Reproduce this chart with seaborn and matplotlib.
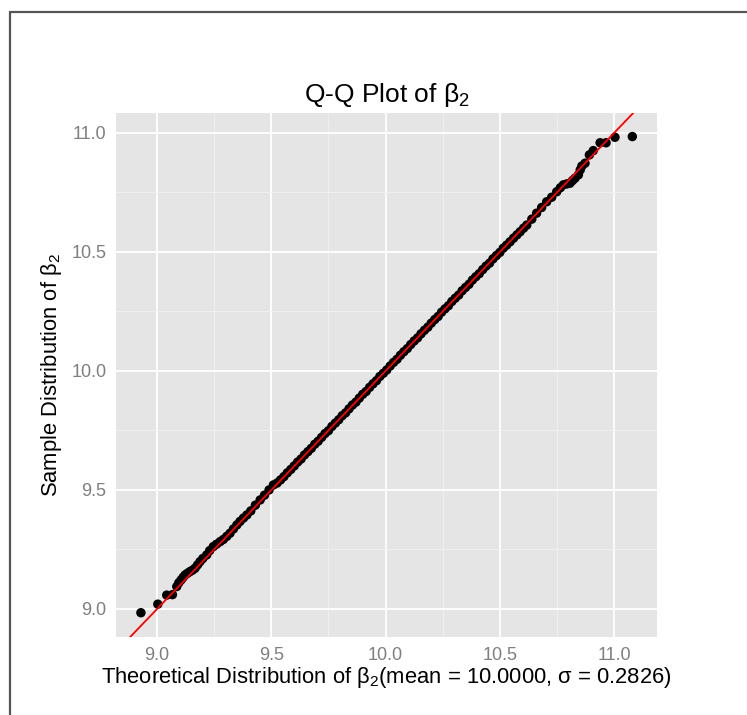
import numpy as np
import matplotlib
matplotlib.use("Agg")
import matplotlib.pyplot as plt
from matplotlib.lines import Line2D
import pandas as pd
import seaborn as sns

# quantile pairs (theoretical, sample)
lower_theory = [8.929, 9.003, 9.042, 9.067, 9.086, 9.095, 9.105, 9.114, 9.123, 9.133,
                9.144, 9.155, 9.166, 9.177, 9.188, 9.200, 9.217, 9.230, 9.246, 9.260,
                9.276, 9.290, 9.305, 9.319, 9.334, 9.349, 9.363, 9.378, 9.393, 9.410,
                9.430, 9.451, 9.470, 9.490, 9.509]
lower_sample = [8.984, 9.020, 9.058, 9.060, 9.094, 9.110, 9.122, 9.133, 9.143, 9.150,
                9.157, 9.163, 9.171, 9.185, 9.199, 9.212, 9.227, 9.245, 9.262, 9.272,
                9.283, 9.292, 9.305, 9.318, 9.336, 9.353, 9.368, 9.382, 9.395, 9.412,
                9.436, 9.458, 9.478, 9.500, 9.521]

body_theory = [9.525, 9.540, 9.555, 9.570, 9.585, 9.600, 9.615, 9.630, 9.645, 9.660,
               9.675, 9.690, 9.705, 9.720, 9.735, 9.750, 9.765, 9.780, 9.795, 9.810,
               9.825, 9.840, 9.855, 9.870, 9.885, 9.900, 9.915, 9.930, 9.945, 9.960,
               9.975, 9.990, 10.005, 10.020, 10.035, 10.050, 10.065, 10.080, 10.095, 10.110,
               10.125, 10.140, 10.155, 10.170, 10.185, 10.200, 10.215, 10.230, 10.245, 10.260,
               10.275, 10.290, 10.305, 10.320, 10.335, 10.350, 10.365, 10.380, 10.395, 10.410,
               10.425, 10.440, 10.455, 10.470, 10.485, 10.500, 10.515, 10.530, 10.545, 10.560,
               10.575]
body_sample = [9.529, 9.542, 9.556, 9.572, 9.586, 9.601, 9.617, 9.630, 9.647, 9.661,
               9.675, 9.692, 9.705, 9.721, 9.737, 9.749, 9.767, 9.781, 9.795, 9.812,
               9.824, 9.841, 9.857, 9.869, 9.886, 9.902, 9.914, 9.931, 9.946, 9.959,
               9.977, 9.990, 10.004, 10.021, 10.036, 10.049, 10.066, 10.081, 10.094, 10.111,
               10.126, 10.139, 10.156, 10.171, 10.184, 10.201, 10.216, 10.229, 10.247, 10.261,
               10.274, 10.292, 10.306, 10.319, 10.337, 10.351, 10.364, 10.382, 10.396, 10.409,
               10.426, 10.441, 10.453, 10.471, 10.485, 10.498, 10.516, 10.529, 10.543, 10.558,
               10.572]

upper_theory = [10.589, 10.604, 10.618, 10.640, 10.661, 10.683, 10.705, 10.727, 10.749, 10.765,
                10.778, 10.793, 10.807, 10.818, 10.829, 10.844, 10.852, 10.859, 10.873, 10.892,
                10.909, 10.939, 10.965, 11.004, 11.080]
upper_sample = [10.585, 10.600, 10.613, 10.638, 10.663, 10.687, 10.711, 10.730, 10.753, 10.770,
                10.782, 10.786, 10.789, 10.800, 10.810, 10.824, 10.845, 10.861, 10.873, 10.908,
                10.926, 10.959, 10.959, 10.982, 10.985]

xticks = [9.0, 9.5, 10.0, 10.5, 11.0]
yticks = [9.0, 9.5, 10.0, 10.5, 11.0]

df = pd.DataFrame({
    "theory": lower_theory + body_theory + upper_theory,
    "sample": lower_sample + body_sample + upper_sample,
})

sns.set_theme(style="white")
plt.rcParams['font.family'] = ['Liberation Sans', 'DejaVu Sans']
plt.rcParams['mathtext.fontset'] = 'custom'
plt.rcParams['mathtext.rm'] = 'Liberation Sans'
plt.rcParams['mathtext.it'] = 'Liberation Sans:italic'

fig = plt.figure(figsize=(7.47, 7.15), dpi=100)
ax = fig.add_axes([116/747, 1-637/715, (657-116)/747, (637-113)/715])
ax.set_facecolor('#E5E5E5')

sns.scatterplot(data=df, x="theory", y="sample", ax=ax, color='black', s=46,
                edgecolor='none', linewidth=0, zorder=3)
ax.axline((10.0, 10.0), slope=1.0, color='#FF0000', lw=1.3, zorder=4)

ax.set_xticks(xticks)
ax.set_yticks(yticks)
ax.set_xticks([8.75 + 0.5*i for i in range(6)], minor=True)
ax.set_yticks([8.75 + 0.5*i for i in range(6)], minor=True)
ax.set_xlim(8.82, 11.188)
ax.set_ylim(8.882, 11.084)
ax.grid(True, which='major', color='white', lw=1.3, zorder=0)
ax.grid(True, which='minor', color='#F2F2F2', lw=0.6, zorder=0)
ax.set_axisbelow(True)
for sp in ax.spines.values():
    sp.set_visible(False)
ax.tick_params(which='major', direction='out', length=4, width=1, color='#7F7F7F',
               labelcolor='#7F7F7F', labelsize=13, pad=3)
ax.tick_params(which='minor', length=0)
ax.set_xticklabels(['9.0', '9.5', '10.0', '10.5', '11.0'])
ax.set_yticklabels(['9.0', '9.5', '10.0', '10.5', '11.0'])

ax.set_title('Q-Q Plot of β$_2$', fontsize=19, color='black', pad=8)
ax.set_xlabel('Theoretical Distribution of β$_2$(mean = 10.0000, σ = 0.2826)',
              fontsize=15.8, color='black', labelpad=1)
ax.set_ylabel('Sample Distribution of β$_2$', fontsize=15.8, color='black', labelpad=5)

# outer frame (left and top edges)
fig.add_artist(Line2D([10/747, 10/747], [0, 1-12/715], color='#555555', lw=1.6,
                      transform=fig.transFigure))
fig.add_artist(Line2D([10/747, 1], [1-12/715, 1-12/715], color='#555555', lw=1.6,
                      transform=fig.transFigure))

fig.savefig('out.png', dpi=100)
